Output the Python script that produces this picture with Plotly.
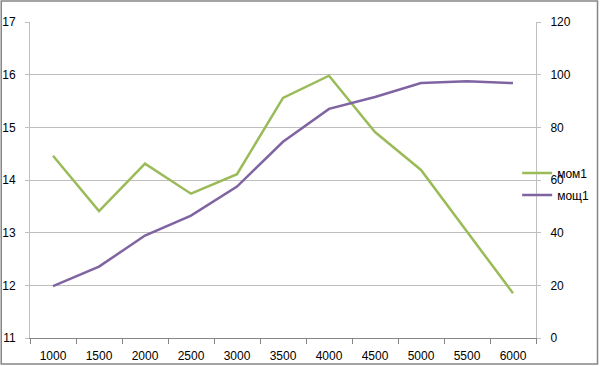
import plotly.graph_objects as go

rpm = ["1000", "1500", "2000", "2500", "3000", "3500", "4000", "4500", "5000", "5500", "6000"]
mom1 = [14.46, 13.41, 14.31, 13.74, 14.11, 15.56, 15.98, 14.91, 14.19, 13.03, 11.85]
mosh1 = [19.7, 27.1, 38.9, 46.5, 57.5, 74.5, 87.0, 91.5, 96.8, 97.5, 96.8]

W, H = 606, 366
L, R, T, B = 30, 66, 22, 28

fig = go.Figure()
fig.add_trace(go.Scatter(x=rpm, y=mom1, name="мом1", mode="lines", legendgroup="a",
                         line=dict(color="#9bbb59", width=2.5), yaxis="y"))
fig.add_trace(go.Scatter(x=rpm, y=mosh1, name="мощ1", mode="lines", legendgroup="b",
                         line=dict(color="#8064a2", width=2.5), yaxis="y2"))

pw = W - L - R
ph = H - T - B
fig.add_shape(type="rect", xref="paper", yref="paper",
              x0=-(L - 1) / pw, x1=1 + (R - 4) / pw,
              y0=-(B - 2) / ph, y1=1 + (T - 1) / ph,
              line=dict(color="#868686", width=1.5), layer="above")

fig.update_layout(
    width=W, height=H, autosize=False,
    margin=dict(l=L, r=R, t=T, b=B),
    paper_bgcolor="white", plot_bgcolor="white",
    font=dict(family="Liberation Sans, Arial, sans-serif", size=12, color="#000000"),
    xaxis=dict(type="category", range=[-0.5, 10.5], tickson="boundaries", ticks="outside",
               ticklen=5, tickcolor="#868686", showline=True, linecolor="#868686",
               linewidth=1, showgrid=False, zeroline=False, tickfont=dict(size=12),
               ticklabelstandoff=7, automargin=False),
    yaxis=dict(range=[11, 17], dtick=1, ticks="outside", ticklen=4, tickcolor="#bfbfbf",
               showline=True, linecolor="#bfbfbf", linewidth=1,
               showgrid=True, gridcolor="#bfbfbf", gridwidth=1, zeroline=False,
               tickfont=dict(size=12), ticklabelstandoff=7, automargin=False),
    yaxis2=dict(range=[0, 120], dtick=20, overlaying="y", side="right", ticks="outside",
                ticklen=4, tickcolor="#bfbfbf", showline=True, linecolor="#bfbfbf",
                linewidth=1, showgrid=False, zeroline=False, tickfont=dict(size=12),
                ticklabelstandoff=7, automargin=False),
    legend=dict(x=(521 - L) / pw, y=(338 - 184) / ph, xanchor="left", yanchor="middle",
                bgcolor="rgba(0,0,0,0)", font=dict(size=12), itemwidth=30,
                tracegroupgap=3),
    showlegend=True,
)

fig.write_html("out.html", post_script="document.body.style.margin='0';",
               config={"displayModeBar": False})
